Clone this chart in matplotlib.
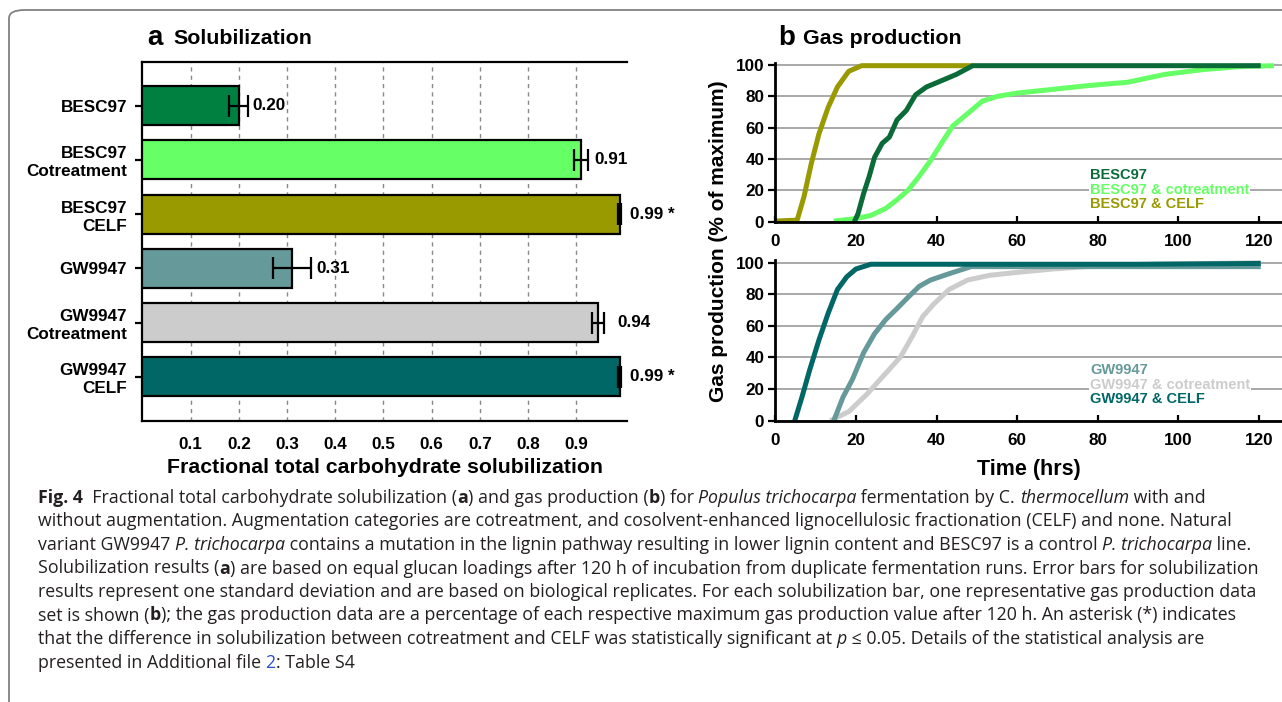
import numpy as np
import matplotlib
matplotlib.use('Agg')
import matplotlib.pyplot as plt
from matplotlib.patches import FancyBboxPatch

# bar chart data (panel a)
samples = ['BESC97', 'BESC97\nCotreatment', 'BESC97\nCELF',
           'GW9947', 'GW9947\nCotreatment', 'GW9947\nCELF']
solub = [0.20, 0.91, 0.99, 0.31, 0.945, 0.99]
solub_err = [0.02, 0.015, 0.003, 0.04, 0.012, 0.003]
solub_lbl = ['0.20', '0.91', '0.99 *', '0.31', '0.94', '0.99 *']
bar_colors = ['#008040', '#66FF66', '#999900', '#669999', '#CCCCCC', '#006666']

# gas production curves (panel b), time in hrs, % of maximum
t_besc = [0, 19.6, 20.5, 21.9, 23.3, 24.6, 26.5, 28.3, 30.2, 32.5, 34.8, 37.5, 40.3, 44.9, 49, 120.5]
v_besc = [np.nan, 0, 5, 18, 29, 41, 50, 54, 65, 71, 81, 86, 89, 94, 99.6, 99.6]
t_besc_co = [14.5, 20, 23.7, 27.4, 30.2, 32.9, 35.7, 38.5, 41.2, 44, 47.7, 51.4, 55.1, 59.7,
             68.9, 78.1, 87.4, 96.6, 105.8, 115, 123.8]
v_besc_co = [0.4, 2, 4, 8.5, 14, 20, 29, 39, 50, 61, 69, 77, 80, 82,
             84.5, 87, 89, 94, 97, 99, 99.6]
t_besc_celf = [0, 5.4, 7.1, 8.9, 10.8, 13.1, 15.4, 18.2, 21.4, 49]
v_besc_celf = [0.4, 1, 16, 37, 56, 73, 86, 96, 99.6, 99.6]

t_gw = [14.5, 16.8, 19.1, 21.9, 24.6, 27.4, 30.2, 32.9, 35.7, 38.5, 43.1, 48.6, 120.5]
v_gw = [0, 15, 26, 43, 55, 64, 71, 78, 85, 89, 93, 97.5, 97.5]
t_gw_co = [13.6, 18.2, 22.8, 27.4, 31.1, 33.9, 36.6, 39.4, 43.1, 47.7, 53.2, 60.6, 68.9, 82.7, 120.5]
v_gw_co = [0, 5.7, 17, 30, 40.5, 53, 66, 74, 83, 89, 92, 94, 96, 98.5, 100]
t_gw_celf = [4.8, 6.6, 8.5, 10.8, 13.1, 15.4, 17.7, 20, 23.7, 90, 120.5]
v_gw_celf = [0, 15, 32, 51, 68, 83, 91, 96, 99, 99, 99.5]

top_series = [('BESC97 & CELF', t_besc_celf, v_besc_celf, '#999900'),
              ('BESC97 & cotreatment', t_besc_co, v_besc_co, '#66FF66'),
              ('BESC97', t_besc, v_besc, '#0B6B38')]
bot_series = [('GW9947 & cotreatment', t_gw_co, v_gw_co, '#CCCCCC'),
              ('GW9947', t_gw, v_gw, '#669999'),
              ('GW9947 & CELF', t_gw_celf, v_gw_celf, '#006666')]
top_legend = ['BESC97', 'BESC97 & cotreatment', 'BESC97 & CELF']
bot_legend = ['GW9947', 'GW9947 & cotreatment', 'GW9947 & CELF']

plt.rcParams['font.family'] = ['Liberation Sans', 'DejaVu Sans']
plt.rcParams['font.weight'] = 'bold'

W, H = 1282, 702
fig = plt.figure(figsize=(W / 100, H / 100), dpi=100)


def fx(px):
    return px / W


def fy(py):
    return 1 - py / H


# rounded frame around figure
frame = FancyBboxPatch((fx(9), fy(760)), fx(1400), 750 / H,
                       boxstyle='round,pad=0,rounding_size=0.012',
                       transform=fig.transFigure, fill=False,
                       edgecolor='#808080', lw=1.3, clip_on=True)
fig.patches.append(frame)

# ---- panel a ----
axa = fig.add_axes([fx(142.4), fy(420.7), fx(627) - fx(142.4), 359 / H])
ypos = np.arange(len(samples))
axa.barh(ypos, solub, height=0.72, color=bar_colors, edgecolor='black', lw=1.6, zorder=3)
axa.errorbar(solub, ypos, xerr=solub_err, fmt='none', ecolor='black',
             elinewidth=1.6, capsize=8, capthick=1.6, zorder=4)
lbl_off = [3, 4, 6, 4, 10, 6]
for i in range(len(samples)):
    axa.annotate(solub_lbl[i], xy=(solub[i] + solub_err[i], ypos[i]),
                 xytext=(lbl_off[i], 0), textcoords='offset points',
                 va='center', ha='left', fontsize=12.3, fontweight='bold')
axa.set_ylim(len(samples) - 1 + 0.81, -0.81)
axa.set_xlim(0, 1.005)
axa.set_xticks(np.arange(1, 10) / 10)
axa.set_xticklabels(['%.1f' % v for v in np.arange(1, 10) / 10])
axa.set_yticks(ypos)
axa.set_yticklabels(samples, fontsize=12.3, fontweight='bold', linespacing=1.25)
axa.xaxis.grid(True, ls=(0, (3, 3)), color='#888888', lw=1, zorder=0)
axa.tick_params(axis='x', length=0, pad=12, labelsize=12.3)
axa.tick_params(axis='y', length=5, width=1.6, pad=6)
axa.spines['right'].set_visible(False)
for s in ['left', 'top', 'bottom']:
    axa.spines[s].set_linewidth(1.6)
axa.set_xlabel('Fractional total carbohydrate solubilization', fontsize=15.3,
               fontweight='bold', labelpad=4)
fig.text(fx(147), fy(38), 'a', fontsize=20, fontweight='bold', va='center')
fig.text(fx(173), fy(39), 'Solubilization', fontsize=15.4, fontweight='bold', va='center')

# ---- panel b ----
axt = fig.add_axes([fx(775.4), fy(221.7), 507.5 / W, 159 / H])
axb = fig.add_axes([fx(775.4), fy(420.7), 507.5 / W, 160.4 / H])


def style_gas(ax):
    ax.set_xlim(0, 126)
    ax.set_ylim(0, 101.5)
    ax.set_xticks(np.arange(0, 121, 20))
    ax.set_yticks(np.arange(0, 101, 20))
    ax.yaxis.grid(True, color='#999999', lw=1.2, zorder=0)
    ax.set_axisbelow(True)
    ax.tick_params(axis='x', direction='in', length=4, width=1.6, pad=9, labelsize=12.3)
    ax.tick_params(axis='y', direction='out', length=5, width=1.6, pad=3, labelsize=12.3)
    for s in ['top', 'right']:
        ax.spines[s].set_visible(False)
    for s in ['left', 'bottom']:
        ax.spines[s].set_linewidth(2)
        ax.spines[s].set_zorder(5)


for ax, series, legend, ly in [(axt, top_series, top_legend, [175, 190.5, 204.5]),
                               (axb, bot_series, bot_legend, [370, 385, 399])]:
    style_gas(ax)
    cols = {}
    for name, t, v, c in series:
        ax.plot(t, v, color=c, lw=3.6, solid_capstyle='butt', zorder=3)
        cols[name] = c
    for name, y in zip(legend, ly):
        fig.text(fx(1090), fy(y), name, color=cols[name], fontsize=10.5,
                 fontweight='bold', va='center', ha='left', zorder=6,
                 bbox=dict(facecolor='white', edgecolor='none', pad=0.5))

axb.set_xlabel('Time (hrs)', fontsize=15.5, fontweight='bold', labelpad=8)
fig.text(fx(718), fy(241), 'Gas production (% of maximum)', rotation=90,
         fontsize=15, fontweight='bold', va='center', ha='center')
fig.text(fx(778), fy(38), 'b', fontsize=20, fontweight='bold', va='center')
fig.text(fx(803), fy(39), 'Gas production', fontsize=15.4, fontweight='bold', va='center')

# ---- caption ----
cap_lines = [
    [('Fig. 4', 'b'), ('  Fractional total carbohydrate solubilization (', 'n'), ('a', 'b'),
     (') and gas production (', 'n'), ('b', 'b'), (') for ', 'n'), ('Populus trichocarpa', 'i'),
     (' fermentation by C. ', 'n'), ('thermocellum', 'i'), (' with and', 'n')],
    [('without augmentation. Augmentation categories are cotreatment, and cosolvent-enhanced '
      'lignocellulosic fractionation (CELF) and none. Natural', 'n')],
    [('variant GW9947 ', 'n'), ('P. trichocarpa', 'i'),
     (' contains a mutation in the lignin pathway resulting in lower lignin content and BESC97 '
      'is a control ', 'n'), ('P. trichocarpa', 'i'), (' line.', 'n')],
    [('Solubilization results (', 'n'), ('a', 'b'),
     (') are based on equal glucan loadings after 120 h of incubation from duplicate '
      'fermentation runs. Error bars for solubilization', 'n')],
    [('results represent one standard deviation and are based on biological replicates. '
      'For each solubilization bar, one representative gas production data', 'n')],
    [('set is shown (', 'n'), ('b', 'b'),
     ('); the gas production data are a percentage of each respective maximum gas production '
      'value after 120 h. An asterisk (*) indicates', 'n')],
    [('that the difference in solubilization between cotreatment and CELF was statistically '
      'significant at ', 'n'), ('p', 'i'), (' \u2264 0.05. Details of the statistical analysis are', 'n')],
    [('presented in Additional file ', 'n'), ('2', 'link'), (': Table S4', 'n')],
]

fig.canvas.draw()
renderer = fig.canvas.get_renderer()
cap_font = ['Open Sans', 'DejaVu Sans']
cap_size = 12.8
y0 = 503
for k, line in enumerate(cap_lines):
    x = 38
    y = y0 + k * 23.5
    for txt, sty in line:
        kw = dict(fontsize=cap_size, family=cap_font, color='#231F20',
                  fontweight='normal', fontstyle='normal', va='baseline', ha='left')
        if sty == 'b':
            kw['fontweight'] = 'bold'
        elif sty == 'i':
            kw['fontstyle'] = 'italic'
        elif sty == 'link':
            kw['color'] = '#2B4FCB'
        tt = fig.text(fx(x), fy(y), txt, **kw)
        bb = tt.get_window_extent(renderer=renderer)
        x += bb.width

fig.savefig('out.png', dpi=100)
